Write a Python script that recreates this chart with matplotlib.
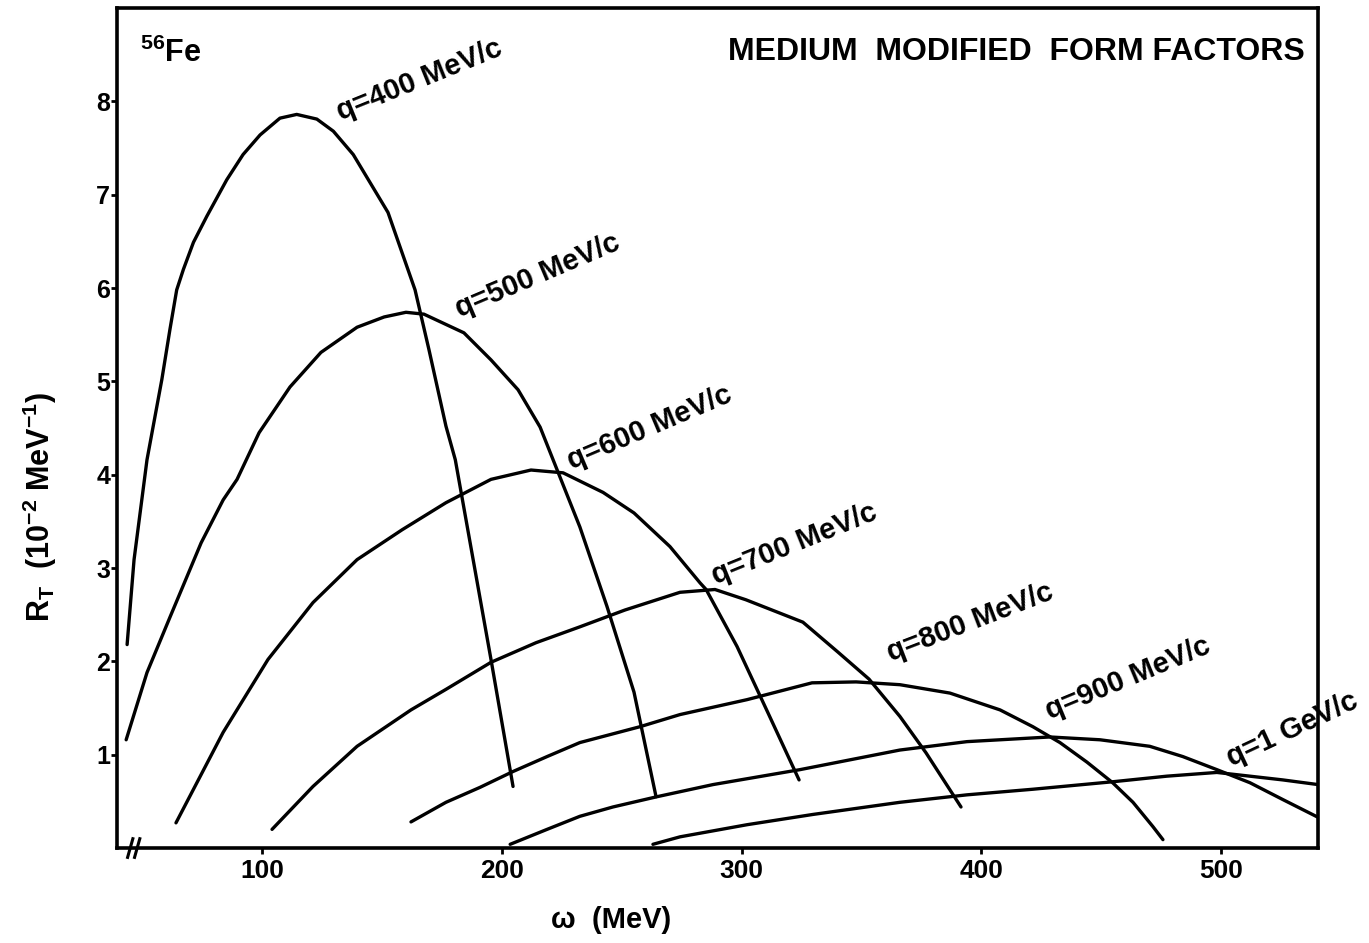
import matplotlib.pyplot as plt

plt.rcParams['font.family'] = ['Liberation Sans', 'DejaVu Sans']
plt.rcParams['font.weight'] = 'bold'
plt.rcParams['mathtext.fontset'] = 'custom'
plt.rcParams['mathtext.rm'] = 'Liberation Sans:bold'
plt.rcParams['mathtext.bf'] = 'Liberation Sans:bold'
plt.rcParams['mathtext.it'] = 'Liberation Sans:bold'
plt.rcParams['mathtext.default'] = 'bf'

# R_T response curves (omega in MeV, R_T in 1e-2 MeV^-1)
w_400 = [43.5, 46.4, 51.8, 58.0, 61.4, 64.2, 67.0, 71.2, 76.8, 85.1, 91.9, 99.0,
         107.3, 114.3, 122.7, 129.6, 137.9, 152.4, 163.7, 169.5, 176.6, 180.5, 195.4, 204.6]
r_400 = [2.18, 3.09, 4.16, 5.02, 5.56, 5.98, 6.20, 6.49, 6.77, 7.16, 7.43, 7.64,
         7.82, 7.86, 7.81, 7.68, 7.43, 6.81, 5.98, 5.34, 4.52, 4.16, 2.02, 0.66]

w_500 = [43.1, 51.8, 61.5, 74.4, 83.6, 89.4, 98.6, 111.5, 124.4, 139.5, 150.8, 159.9,
         167.4, 184.1, 195.4, 206.7, 215.9, 222.1, 232.5, 243.8, 255.1, 264.3]
r_500 = [1.16, 1.88, 2.48, 3.27, 3.73, 3.95, 4.45, 4.94, 5.31, 5.58, 5.69, 5.74,
         5.72, 5.52, 5.23, 4.91, 4.51, 4.11, 3.44, 2.59, 1.67, 0.55]

w_600 = [63.9, 83.6, 102.3, 121.1, 139.5, 158.3, 176.6, 195.4, 212.1, 225.5, 242.2,
         255.1, 270.1, 282.7, 285.2, 298.1, 311.0, 324.0]
r_600 = [0.27, 1.24, 2.02, 2.63, 3.09, 3.41, 3.70, 3.95, 4.05, 4.02, 3.81,
         3.59, 3.23, 2.84, 2.77, 2.16, 1.45, 0.73]

w_700 = [104.0, 121.1, 139.5, 162.0, 176.6, 195.4, 214.2, 232.5, 251.3, 274.3, 288.9,
         301.8, 325.6, 340.2, 353.2, 366.1, 377.0, 391.6]
r_700 = [0.20, 0.66, 1.09, 1.48, 1.70, 1.99, 2.20, 2.37, 2.55, 2.74, 2.77,
         2.66, 2.42, 2.10, 1.81, 1.41, 1.02, 0.44]

w_800 = [162.0, 176.6, 190.8, 204.6, 218.8, 232.5, 257.6, 274.3, 302.3, 329.4, 347.8,
         366.1, 387.0, 407.9, 421.6, 432.9, 444.2, 454.9, 463.4, 471.7, 475.9]
r_800 = [0.28, 0.49, 0.65, 0.82, 0.98, 1.13, 1.30, 1.43, 1.59, 1.77, 1.78,
         1.75, 1.66, 1.48, 1.30, 1.13, 0.92, 0.70, 0.49, 0.23, 0.09]

w_900 = [203.4, 218.8, 232.5, 246.3, 264.7, 288.1, 324.4, 366.1, 394.1, 428.7, 449.6,
         470.4, 484.2, 498.4, 512.2, 525.9, 540.6]
r_900 = [0.04, 0.20, 0.34, 0.44, 0.55, 0.68, 0.84, 1.05, 1.14, 1.19, 1.16,
         1.09, 0.98, 0.84, 0.70, 0.52, 0.33]

w_1000 = [263.0, 274.3, 302.3, 329.8, 366.1, 394.1, 421.6, 454.9, 477.5, 498.4,
          512.2, 525.9, 540.6]
r_1000 = [0.04, 0.12, 0.25, 0.36, 0.49, 0.57, 0.63, 0.71, 0.77, 0.81,
          0.77, 0.73, 0.68]

curves = [(w_400, r_400), (w_500, r_500), (w_600, r_600), (w_700, r_700),
          (w_800, r_800), (w_900, r_900), (w_1000, r_1000)]

labels = ['q=400 MeV/c', 'q=500 MeV/c', 'q=600 MeV/c', 'q=700 MeV/c',
          'q=800 MeV/c', 'q=900 MeV/c', 'q=1 GeV/c']
label_x = [133.6, 183.3, 230.1, 290.2, 363.2, 429.6, 505.5]
label_y = [7.74, 5.62, 4.00, 2.76, 1.94, 1.32, 0.82]
label_rot = [22, 23, 23, 22, 21, 22.5, 25]

x_ticks = [100, 200, 300, 400, 500]
y_ticks = [1, 2, 3, 4, 5, 6, 7, 8]

fig = plt.figure(figsize=(13.69, 9.43), dpi=100)
ax = fig.add_axes([0.0855, 0.1007, 0.8772, 0.8908])

for w, r in curves:
    ax.plot(w, r, color='black', lw=2.4, solid_capstyle='round', solid_joinstyle='round')

for txt, lx, ly, rot in zip(labels, label_x, label_y, label_rot):
    ax.text(lx, ly, txt, rotation=rot, rotation_mode='anchor', ha='left', va='bottom',
            fontsize=21, fontweight='bold')

ax.text(48.9, 8.68, r'$^{56}$Fe', fontsize=22, fontweight='bold', ha='left', va='top')
ax.text(535.2, 8.53, 'MEDIUM  MODIFIED  FORM FACTORS', fontsize=23, fontweight='bold',
        ha='right', va='center')

# axis break marks
for xb in (44.8, 47.7):
    ax.plot([xb - 1.1, xb + 1.1], [-0.1, 0.1], color='black', lw=2.2, clip_on=False)

ax.set_xlim(39.3, 540.6)
ax.set_ylim(0, 9.0)
ax.set_xticks(x_ticks)
ax.set_yticks(y_ticks)
ax.tick_params(axis='x', direction='out', length=4, width=2, labelsize=19, pad=4)
ax.tick_params(axis='y', direction='out', length=4, width=2, labelsize=18, pad=1)
for lab in ax.get_xticklabels() + ax.get_yticklabels():
    lab.set_fontweight('bold')
for sp in ax.spines.values():
    sp.set_linewidth(2.6)

fig.text(611 / 1369, 1 - 920 / 943, 'ω  (MeV)', fontsize=21, fontweight='bold',
         ha='center', va='center')
fig.text(40 / 1369, 1 - 507 / 943, r'R$_T$  (10$^{-2}$ MeV$^{-1}$)', fontsize=22,
         fontweight='bold', rotation=90, ha='center', va='center')

fig.savefig('out.png', dpi=100)
